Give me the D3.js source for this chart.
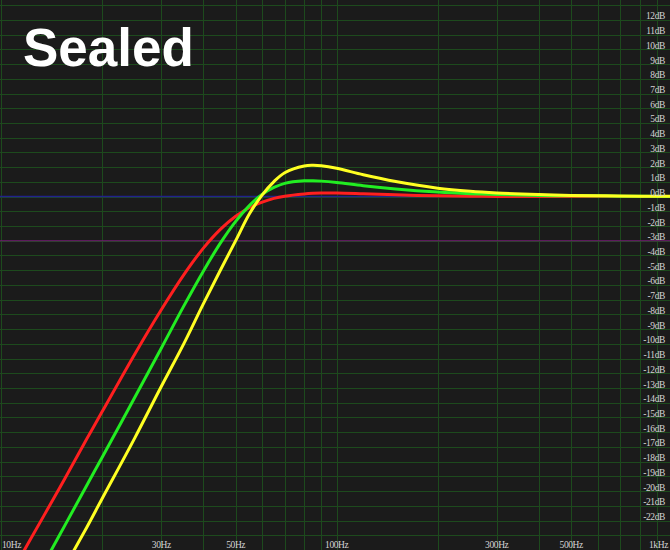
<!DOCTYPE html>
<html>
<head>
<meta charset="utf-8">
<script src="https://cdn.jsdelivr.net/npm/d3@7/dist/d3.min.js"></script>
<style>
  html, body { margin: 0; padding: 0; background: #1b1b1b; }
  svg { display: block; }
</style>
</head>
<body>
<svg id="chart" width="670" height="550"></svg>
<script>
// ---- data ----
const freqs = [10, 12, 15, 18, 20, 25, 30, 35, 40, 45, 50, 55, 60, 65, 70, 80, 85, 90, 100, 120, 150, 200, 250, 300, 400, 500, 700, 1000];
const redDb    = [-26.8, -23.6, -19.7, -16.45, -14.6, -10.7, -7.68, -5.31, -3.52, -2.23, -1.34, -0.74, -0.37, -0.12, 0.03, 0.18, 0.22, 0.24, 0.24, 0.19, 0.12, 0.05, 0.03, 0.01, 0, 0, 0, 0];
const greenDb  = [-30.1, -26.9, -22.9, -19.6, -17.7, -13.65, -10.3, -7.44, -5.08, -3.16, -1.68, -0.6, 0.16, 0.62, 0.9, 1.07, 1.07, 1.05, 0.96, 0.74, 0.52, 0.31, 0.2, 0.14, 0.08, 0.05, 0.03, 0.01];
const yellowDb = [-32.9, -29.7, -25.7, -22.45, -20.5, -16.4, -12.9, -10.0, -7.3, -5.0, -2.99, -1.15, 0.12, 1.02, 1.62, 2.08, 2.12, 2.09, 1.92, 1.48, 1.02, 0.57, 0.36, 0.25, 0.14, 0.08, 0.04, 0.02];

const gridFreqs = [10, 20, 30, 40, 50, 60, 70, 80, 90, 100, 200, 300, 400, 500, 600, 700, 800, 900, 1000];
const freqLabelValues = [10, 30, 50, 100, 300, 500, 1000];
const freqLabelTexts = ["10Hz", "30Hz", "50Hz", "100Hz", "300Hz", "500Hz", "1kHz"];
const gridDb = d3.range(13, -24, -1);          // 13 .. -23
const dbLabelValues = d3.range(12, -23, -1);   // 12 .. -22
const titleText = "Sealed";

// ---- layout ----
const W = 670, H = 550;
const x = d3.scaleLog().domain([10, 1000]).range([1.2, 672.2]);
const y = d3.scaleLinear().domain([-24, 13.35]).range([550, 0]);

const svg = d3.select("#chart");
svg.append("rect").attr("width", W).attr("height", H).attr("fill", "#1b1b1b");

const grid = svg.append("g").attr("shape-rendering", "crispEdges");
grid.selectAll("line.h").data(gridDb).join("line")
  .attr("class", "h")
  .attr("x1", 0).attr("x2", W)
  .attr("y1", d => Math.round(y(d)) + 0.5).attr("y2", d => Math.round(y(d)) + 0.5)
  .attr("stroke", "#1d4a1d").attr("stroke-width", 1);
grid.selectAll("line.v").data(gridFreqs).join("line")
  .attr("class", "v")
  .attr("x1", d => Math.round(x(d)) + 0.5).attr("x2", d => Math.round(x(d)) + 0.5)
  .attr("y1", 0).attr("y2", H)
  .attr("stroke", "#1d4a1d").attr("stroke-width", 1);

// reference lines 0 dB and -3 dB
svg.append("line").attr("x1", 0).attr("x2", W)
  .attr("y1", y(0)).attr("y2", y(0))
  .attr("stroke", "#22228c").attr("stroke-width", 1.5);
svg.append("line").attr("x1", 0).attr("x2", W)
  .attr("y1", y(-3)).attr("y2", y(-3))
  .attr("stroke", "#741c74").attr("stroke-width", 1.2);

// curves
const line = d3.line()
  .x((d, i) => x(freqs[i]))
  .y(d => y(d))
  .curve(d3.curveCatmullRom.alpha(0.5));

const series = [
  { values: redDb, color: "#ff1f1f" },
  { values: greenDb, color: "#22ee22" },
  { values: yellowDb, color: "#ffff22" }
];
svg.append("g").selectAll("path").data(series).join("path")
  .attr("d", s => line(s.values))
  .attr("fill", "none")
  .attr("stroke", s => s.color)
  .attr("stroke-width", 3)
  .attr("stroke-linejoin", "round");

// dB labels
svg.append("g").selectAll("text").data(dbLabelValues).join("text")
  .attr("x", 665)
  .attr("y", d => y(d) - 0.5)
  .attr("text-anchor", "end")
  .attr("font-family", "'Liberation Serif', 'DejaVu Serif', serif")
  .attr("font-size", 9.5)
  .attr("letter-spacing", -0.4)
  .attr("fill", "#d4d4d4")
  .text(d => d + "dB");

// frequency labels
svg.append("g").selectAll("text").data(freqLabelValues).join("text")
  .attr("x", (d, i) => i === 0 ? 2 : (d === 1000 ? 668 : x(d)))
  .attr("y", 548)
  .attr("text-anchor", (d, i) => i === 0 ? "start" : (d === 1000 ? "end" : "middle"))
  .attr("font-family", "'Liberation Serif', 'DejaVu Serif', serif")
  .attr("font-size", 9.5)
  .attr("letter-spacing", -0.4)
  .attr("fill", "#d4d4d4")
  .text((d, i) => freqLabelTexts[i]);

// title
svg.append("text")
  .attr("x", 23).attr("y", 66)
  .attr("font-family", "'Liberation Sans', Arial, sans-serif")
  .attr("font-weight", "bold")
  .attr("font-size", 53)
  .attr("fill", "#ffffff")
  .text(titleText);
</script>
</body>
</html>
